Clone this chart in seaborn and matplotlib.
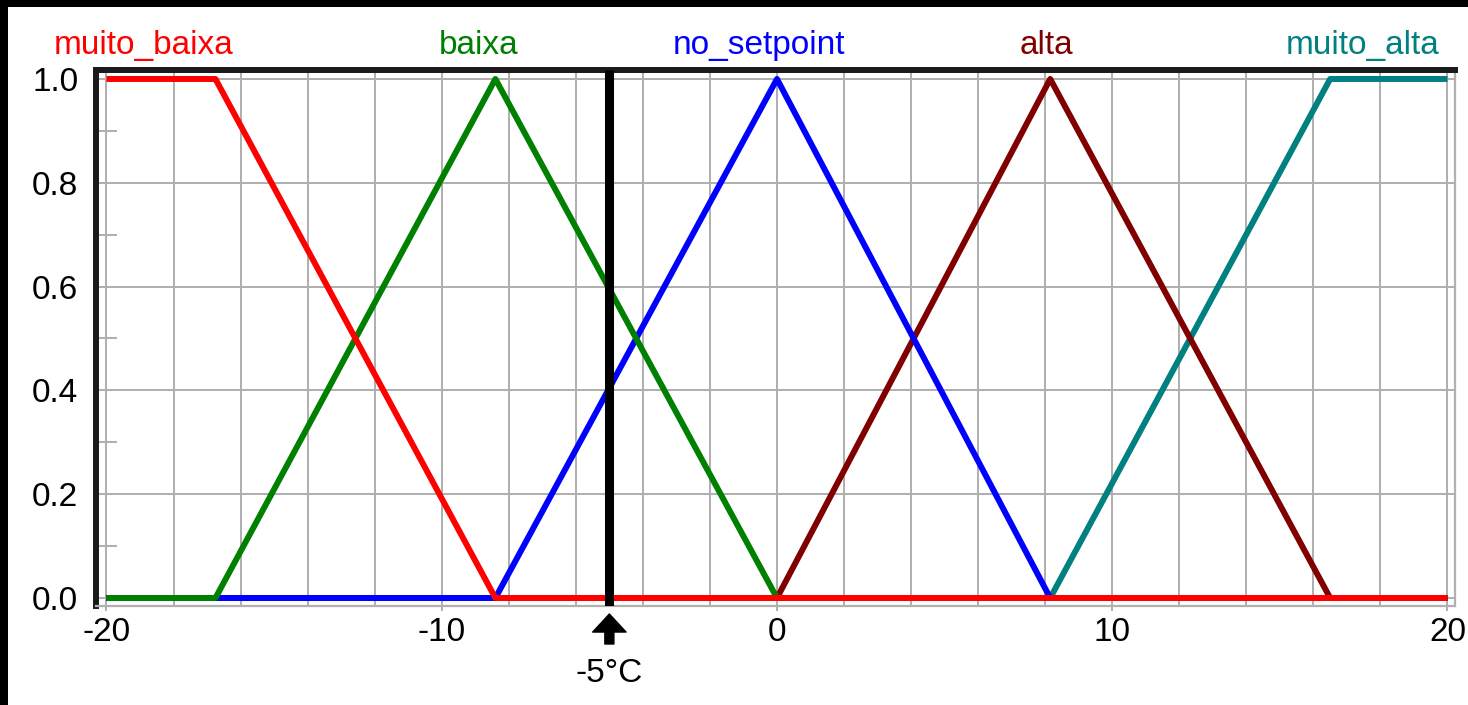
import numpy as np
import pandas as pd
import matplotlib
matplotlib.use("Agg")
import matplotlib.pyplot as plt
from matplotlib.patches import Rectangle
import seaborn as sns

# terms of the temperature-deviation variable
MF_NAMES = ["muito_baixa", "baixa", "no_setpoint", "alta", "muito_alta"]
MF_COLORS = ["#ff0000", "#008000", "#0000ff", "#800000", "#008080"]

MUITO_BAIXA_X = [-20, -16.75, -8.4, 20]
MUITO_BAIXA_Y = [1, 1, 0, 0]
BAIXA_X = [-20, -16.75, -8.4, 0, 20]
BAIXA_Y = [0, 0, 1, 0, 0]
NO_SETPOINT_X = [-20, -8.4, 0, 8.15, 20]
NO_SETPOINT_Y = [0, 0, 1, 0, 0]
ALTA_X = [-20, 0, 8.15, 16.5, 20]
ALTA_Y = [0, 0, 1, 0, 0]
MUITO_ALTA_X = [-20, 8.15, 16.5, 20]
MUITO_ALTA_Y = [0, 0, 1, 1]

# where each term name sits above the plot (data x)
LABEL_X = [-18.9, -8.9, -0.55, 8.05, 17.48]

X_TICKS = [-20, -10, 0, 10, 20]
X_TICK_LABELS = ["-20", "-10", "0", "10", "20"]
X_GRID = list(range(-20, 21, 2))
Y_TICKS = [0.0, 0.2, 0.4, 0.6, 0.8, 1.0]
Y_TICK_LABELS = ["0.0", "0.2", "0.4", "0.6", "0.8", "1.0"]
Y_MINOR = [0.1, 0.3, 0.5, 0.7, 0.9]

CURRENT_X = -5
CURRENT_LABEL = "-5°C"

GRID_COL = "#b0b0b0"
FS = 24

xs = [MUITO_BAIXA_X, BAIXA_X, NO_SETPOINT_X, ALTA_X, MUITO_ALTA_X]
ys = [MUITO_BAIXA_Y, BAIXA_Y, NO_SETPOINT_Y, ALTA_Y, MUITO_ALTA_Y]
df = pd.concat([pd.DataFrame({"term": n, "x": x, "y": y}) for n, x, y in zip(MF_NAMES, xs, ys)],
               ignore_index=True)

sns.set_theme(style="white")
plt.rcParams["font.family"] = ["Liberation Sans", "DejaVu Sans"]
plt.rcParams["axes.unicode_minus"] = False

fig = plt.figure(figsize=(14.68, 7.05), dpi=100)
ax = fig.add_axes([96 / 1468, 99 / 705, 1359.5 / 1468, 536 / 705])

# last term at the bottom, first term on top
for name, col in reversed(list(zip(MF_NAMES, MF_COLORS))):
    sns.lineplot(data=df[df["term"] == name], x="x", y="y", color=col, lw=4.3,
                 estimator=None, sort=False, solid_capstyle="butt", legend=False, ax=ax)

ax.axvline(CURRENT_X, color="black", lw=6.5, zorder=4, solid_capstyle="butt")

ax.set_xlim(-20.313, 20.239)
ax.set_ylim(-0.0154, 1.0173)
ax.set_xticks(X_TICKS)
ax.set_xticklabels(X_TICK_LABELS)
ax.set_xticks(X_GRID, minor=True)
ax.set_yticks(Y_TICKS)
ax.set_yticklabels(Y_TICK_LABELS)
ax.set_yticks(Y_MINOR, minor=True)
ax.set_xlabel("")
ax.set_ylabel("")

ax.set_axisbelow(True)
ax.grid(False)
ax.xaxis.grid(True, which="both", color=GRID_COL, lw=1.44)
ax.yaxis.grid(True, which="major", color=GRID_COL, lw=1.44)

ax.tick_params(axis="x", which="major", bottom=True, direction="out", length=3.6, width=1.44,
               color=GRID_COL, pad=4.3, labelsize=FS, labelcolor="black")
ax.tick_params(axis="x", which="minor", length=0)
ax.tick_params(axis="y", which="major", left=True, length=0, pad=12.7, labelsize=FS,
               labelcolor="black")
ax.tick_params(axis="y", which="minor", left=True, direction="in", length=15, width=1.44,
               color=GRID_COL)

for side in ["left", "top"]:
    ax.spines[side].set_color("#1a1a1a")
    ax.spines[side].set_linewidth(4.3)
for side in ["right", "bottom"]:
    ax.spines[side].set_color(GRID_COL)
    ax.spines[side].set_linewidth(1.6)

tr = ax.get_xaxis_transform()
for name, col, lx in zip(MF_NAMES, MF_COLORS, LABEL_X):
    ax.text(lx, 1.0299, name, transform=tr, ha="center", va="baseline", color=col, fontsize=FS)

ax.annotate("", xy=(CURRENT_X, -0.0149), xytext=(CURRENT_X, -0.0709), xycoords=tr, textcoords=tr,
            arrowprops=dict(arrowstyle="simple,head_length=13,head_width=24,tail_width=6.5",
                            mutation_scale=1, color="black", shrinkA=0, shrinkB=0))
ax.text(CURRENT_X, -0.1418, CURRENT_LABEL, transform=tr, ha="center", va="baseline",
        color="black", fontsize=FS)

# dark window edge on top and left
fig.add_artist(Rectangle((0, 1 - 7 / 705), 1, 7 / 705, transform=fig.transFigure,
                         facecolor="black", edgecolor="none"))
fig.add_artist(Rectangle((0, 0), 8 / 1468, 1, transform=fig.transFigure,
                         facecolor="black", edgecolor="none"))

fig.savefig("out.png", dpi=100, facecolor="white")
